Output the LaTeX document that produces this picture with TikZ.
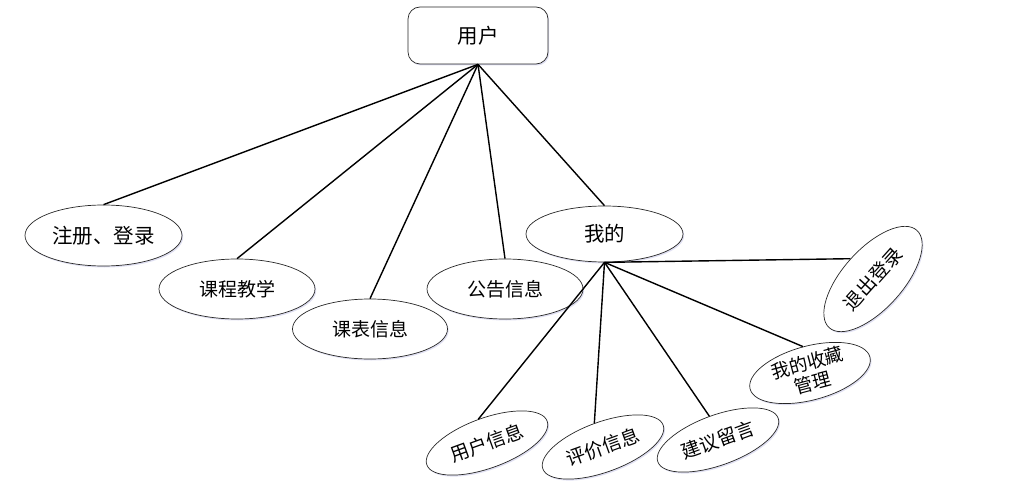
\documentclass[tikz,border=0pt]{standalone}
\usepackage{fontspec}
\setmainfont{Noto Sans CJK SC}
\usetikzlibrary{shapes.geometric,shadows}
\begin{document}
\begin{tikzpicture}[x=1pt,y=-1pt,
  shd/.style={drop shadow={fill=blue!40!gray,opacity=0.18,shadow xshift=1.2pt,shadow yshift=-1.5pt}},
  ell/.style={ellipse, draw=black!85, line width=0.7pt, fill=white, inner sep=0pt, shd,
              font=\fontsize{19}{22}\selectfont},
  big/.style={font=\fontsize{20.5}{23}\selectfont},
  conn/.style={line width=1.4pt, black}]
\useasboundingbox (0,0) rectangle (1027,489);
% root
\node[draw=black!85, line width=0.7pt, rounded corners=12pt, fill=white, shd,
      minimum width=140pt, minimum height=57pt, big] (user) at (478,35.5) {用户};
% first level
\node[ell, big, minimum width=157pt, minimum height=61pt] (reg) at (103.5,235.5) {注册、登录};
\node[ell, minimum width=156pt, minimum height=60pt] (kcjx) at (237,289) {课程教学};
\node[ell, minimum width=155pt, minimum height=60pt] (kbxx) at (370,329) {课表信息};
\node[ell, minimum width=156pt, minimum height=60pt] (ggxx) at (505,289) {公告信息};
\node[ell, big, minimum width=157pt, minimum height=56pt] (wode) at (604.5,234) {我的};
% second level
\node[ell, rotate=48, minimum width=131pt, minimum height=60pt] (tcdl) at (873,279) {退出登录};
\node[ell, rotate=15, inner sep=-8pt, minimum width=124pt, minimum height=54pt,
      align=center, font=\fontsize{18.5}{21}\selectfont] (wdsc) at (810,373) {我的收藏\\管理};
\node[ell, rotate=20, minimum width=128pt, minimum height=50pt] (jyly) at (718,440) {建议留言};
\node[ell, rotate=20, minimum width=128pt, minimum height=50pt] (pjxx) at (603,447) {评价信息};
\node[ell, rotate=20, minimum width=128pt, minimum height=50pt] (yhxx) at (487,443) {用户信息};
% connectors
\foreach \t in {reg,kcjx,kbxx,ggxx,wode}
  \draw[conn] (user.south) -- (\t.north);
\foreach \t in {tcdl,wdsc,jyly,pjxx,yhxx}
  \draw[conn] (wode.south) -- (\t.north);
\end{tikzpicture}
\end{document}
